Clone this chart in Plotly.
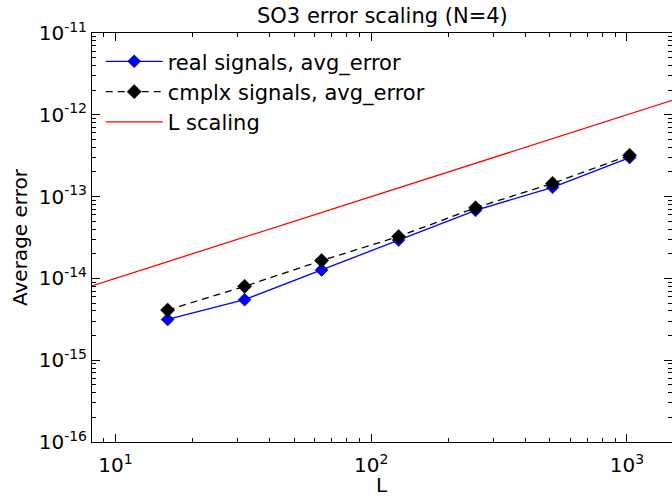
import plotly.graph_objects as go

L_vals = [16, 32, 64, 128, 256, 512, 1024]
real_err = [3.15e-15, 5.5e-15, 1.27e-14, 2.95e-14, 6.8e-14, 1.3e-13, 3.0e-13]
cmplx_err = [4.1e-15, 8.0e-15, 1.65e-14, 3.25e-14, 7.3e-14, 1.45e-13, 3.2e-13]
scale_L = [1, 10000]
scale_err = [1e-15, 1e-11]

x_tickvals = [10, 100, 1000]
x_ticktext = ["10<sup>1</sup>", "10<sup>2</sup>", "10<sup>3</sup>"]
y_tickvals = [1e-16, 1e-15, 1e-14, 1e-13, 1e-12, 1e-11]
y_ticktext = ["10<sup>-16</sup>", "10<sup>-15</sup>", "10<sup>-14</sup>",
              "10<sup>-13</sup>", "10<sup>-12</sup>", "10<sup>-11</sup>"]

FONT = "DejaVu Sans"

fig = go.Figure()
fig.add_trace(go.Scatter(
    x=L_vals, y=real_err, mode="lines+markers", name="real signals, avg_error",
    legendgroup="a",
    line=dict(color="#0000ff", width=1.3),
    marker=dict(symbol="diamond", size=10, color="#0000ff",
                line=dict(color="black", width=0.5)),
))
fig.add_trace(go.Scatter(
    x=L_vals, y=cmplx_err, mode="lines+markers", name="cmplx signals, avg_error",
    legendgroup="b",
    line=dict(color="black", width=1.3, dash="7px,5px"),
    marker=dict(symbol="diamond", size=11, color="black",
                line=dict(color="black", width=0.5)),
))
fig.add_trace(go.Scatter(
    x=scale_L, y=scale_err, mode="lines", name="L scaling",
    legendgroup="c",
    line=dict(color="#ff0000", width=1.3),
))

minor_x = [m * 10 ** e for e in range(0, 4) for m in range(2, 10)]
minor_y = [m * 10.0 ** e for e in range(-17, -10) for m in range(2, 10)]

axis_common = dict(
    showgrid=False, zeroline=False, showline=True, linecolor="black", linewidth=1,
    ticks="inside", ticklen=8, tickwidth=1, tickcolor="black", mirror="ticks",
    tickfont=dict(family=FONT, size=20, color="black"), automargin=False,
)

fig.update_xaxes(
    type="log", range=[0.9085, 3.1762],
    tickvals=x_tickvals, ticktext=x_ticktext, ticklabelstandoff=5,
    minor=dict(tickvals=minor_x, ticks="inside", ticklen=4, tickcolor="black", showgrid=False),
    **axis_common,
)
fig.update_yaxes(
    type="log", range=[-16, -11],
    tickvals=y_tickvals, ticktext=y_ticktext,
    minor=dict(tickvals=minor_y, ticks="inside", ticklen=4, tickcolor="black", showgrid=False),
    **axis_common,
)

fig.update_layout(
    width=672, height=496,
    margin=dict(l=92, r=0, t=33, b=54, autoexpand=False),
    paper_bgcolor="white", plot_bgcolor="white",
    showlegend=True,
    legend=dict(x=0.015, y=0.98, xanchor="left", yanchor="top",
                bgcolor="rgba(0,0,0,0)", borderwidth=0,
                font=dict(family=FONT, size=21, color="black"),
                tracegroupgap=0, itemwidth=57),
    annotations=[
        dict(text="SO3 error scaling (N=4)", xref="paper", yref="paper", x=0.5, y=1.0416,
             xanchor="center", yanchor="middle", showarrow=False,
             font=dict(family=FONT, size=21, color="black")),
        dict(text="L", xref="paper", yref="paper", x=0.5, y=-0.106,
             xanchor="center", yanchor="middle", showarrow=False,
             font=dict(family=FONT, size=20, color="black")),
        dict(text="Average error", xref="paper", yref="paper", x=-0.125, y=0.5,
             xanchor="center", yanchor="middle", showarrow=False, textangle=-90,
             font=dict(family=FONT, size=20, color="black")),
    ],
)

fig.write_html("out.html", config={"displayModeBar": False},
               post_script="document.body.style.margin='0';document.body.style.overflow='hidden';")
